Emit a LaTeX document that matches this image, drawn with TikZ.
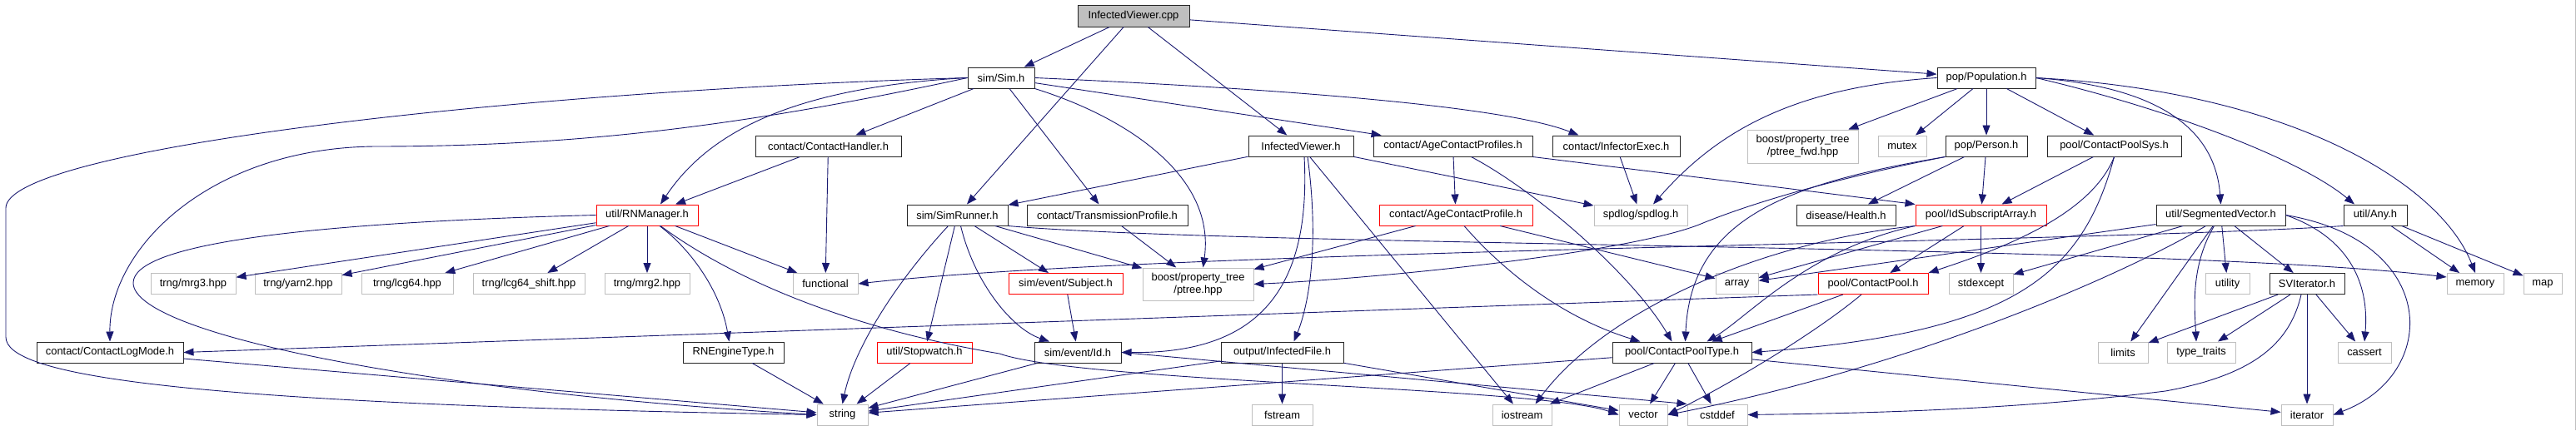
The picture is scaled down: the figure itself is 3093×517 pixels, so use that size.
\documentclass[tikz,border=0pt]{standalone}
\usepackage{fontspec}
\setmainfont{Liberation Sans}
\usetikzlibrary{arrows.meta}
\definecolor{depblue}{HTML}{191970}
\definecolor{sysgray}{HTML}{BFBFBF}

\begin{document}
\begin{tikzpicture}[x=1pt,y=-1pt,font=\fontsize{12.9}{15}\selectfont,
    box/.style={rectangle,inner sep=0pt,minimum height=25pt,line width=1pt,align=center},
    hdr/.style={box,draw=black!85},
    sys/.style={box,draw=sysgray},
    trunc/.style={box,draw=red},
    root/.style={box,draw=black!85,fill=sysgray,minimum height=26pt},
    dep/.style={depblue,line width=.9pt,-{Triangle[length=12pt,width=9pt]}}]
  \useasboundingbox[fill=white] (0,0) rectangle (3093,517);
  \draw[sysgray,line width=1pt] (3092.5,0) -- (3092.5,517);
  \node[root,minimum width=134pt] (cpp) at (1361,19) {InfectedViewer.cpp};
  \node[hdr,minimum width=80pt] (sim) at (1202,93.5) {sim/Sim.h};
  \node[hdr,minimum width=118pt] (pop) at (2385,93.5) {pop/Population.h};
  \foreach \n/\x/\w/\t in {chand/994.5/175/{contact/ContactHandler.h},ivh/1562/126/InfectedViewer.h,
      acps/1744.5/191/{contact/AgeContactProfiles.h},iexec/1940.5/153/{contact/InfectorExec.h},
      person/2385/98/{pop/Person.h},cpsys/2538.5/161/{pool/ContactPoolSys.h}}
    \node[hdr,minimum width=\w pt] (\n) at (\x,175.5) {\t};
  \node[sys,minimum width=133pt,minimum height=40pt] (ptfwd) at (2164.5,176) {boost/property\_tree\\/ptree\_fwd.hpp};
  \node[sys,minimum width=58pt] (mutex) at (2284,175.5) {mutex};
  \node[trunc,minimum width=122pt] (rnm) at (777,258.5) {util/RNManager.h};
  \foreach \n/\x/\w/\t in {simrun/1149.5/121/{sim/SimRunner.h},trans/1329.5/193/{contact/TransmissionProfile.h},
      health/2216.5/119/{disease/Health.h},segvec/2666.5/155/{util/SegmentedVector.h},any/2852/76/{util/Any.h}}
    \node[hdr,minimum width=\w pt] (\n) at (\x,258.5) {\t};
  \node[trunc,minimum width=184pt] (acp) at (1748,258.5) {contact/AgeContactProfile.h};
  \node[trunc,minimum width=157pt] (idsub) at (2378.5,258.5) {pool/IdSubscriptArray.h};
  \node[sys,minimum width=112pt] (spdlog) at (1970,258.5) {spdlog/spdlog.h};
  \foreach \n/\x/\w/\t in {mrg3/232/102/{trng/mrg3.hpp},yarn2/358/104/{trng/yarn2.hpp},lcg64/489/110/{trng/lcg64.hpp},
      lcgsh/635/134/{trng/lcg64\_shift.hpp},mrg2/777/102/{trng/mrg2.hpp},functional/991/78/functional,
      array/2085.5/51/array,stdexcept/2378.5/77/stdexcept,utility/2674.5/53/utility,memory/2972/68/memory,map/3053/46/map}
    \node[sys,minimum width=\w pt] (\n) at (\x,341) {\t};
  \node[sys,minimum width=133pt,minimum height=39pt] (ptree) at (1438.5,341.5) {boost/property\_tree\\/ptree.hpp};
  \node[trunc,minimum width=137pt] (subject) at (1279.5,341) {sim/event/Subject.h};
  \node[trunc,minimum width=132pt] (cpool) at (2249,341) {pool/ContactPool.h};
  \node[hdr,minimum width=90pt] (sviter) at (2770,341) {SVIterator.h};
  \foreach \n/\x/\w/\t in {clog/132/176/{contact/ContactLogMode.h},rneng/880.5/121/RNEngineType.h,id/1294/104/{sim/event/Id.h},
      ifile/1539.5/147/{output/InfectedFile.h},cptype/2019.5/167/{pool/ContactPoolType.h}}
    \node[hdr,minimum width=\w pt] (\n) at (\x,423.5) {\t};
  \node[trunc,minimum width=114pt] (stopw) at (1110,423.5) {util/Stopwatch.h};
  \foreach \n/\x/\w/\t in {limits/2549/60/limits,ttraits/2643/82/{type\_traits},cassert/2839/64/cassert}
    \node[sys,minimum width=\w pt] (\n) at (\x,423.5) {\t};
  \foreach \n/\x/\w/\t in {string/1011.5/61/string,fstream/1539.5/73/fstream,iostream/1827.5/71/iostream,
      vector/1973/58/vector,cstddef/2062/72/cstddef,iterator/2770/62/iterator}
    \node[sys,minimum width=\w pt] (\n) at (\x,498.5) {\t};

  \foreach \a/\b in {cpp/sim,cpp/simrun,cpp/ivh,cpp/pop,sim/chand,sim/trans,sim/acps,
      ivh/simrun,ivh/spdlog,ivh/iostream,pop/ptfwd,pop/mutex,pop/person,pop/cpsys,
      chand/rnm,chand/functional,acps/acp,iexec/spdlog,person/health,person/idsub,cpsys/idsub,
      rnm/mrg3,rnm/yarn2,rnm/lcg64,rnm/lcgsh,rnm/mrg2,rnm/functional,
      simrun/stopw,simrun/subject,simrun/ptree,trans/ptree,acp/ptree,acp/array,
      idsub/array,idsub/cpool,idsub/stdexcept,segvec/array,segvec/stdexcept,segvec/limits,
      segvec/utility,segvec/sviter,any/memory,any/map,subject/id,cpool/cptype,
      sviter/limits,sviter/ttraits,sviter/iterator,sviter/cassert,
      clog/string,rneng/string,stopw/string,id/string,ifile/string,ifile/fstream,ifile/vector,
      cptype/string,cptype/iostream,cptype/vector,cptype/cstddef,cptype/iterator}
    \draw[dep] (\a) -- (\b);
  \draw[dep] (acps.south east) -- (idsub.north west);
  \draw[dep] (cpool.south west) -- (clog.east);
  \draw[dep] (id.east) -- (cstddef.north west);

  \draw[dep] (sim.west) .. controls (600,110) and (7,180) .. (7,250) -- (7,405)
    .. controls (7,450) and (200,485) .. (string.west);
  \draw[dep] (sim.west) .. controls (900,150) and (700,176) .. (450,176)
    .. controls (250,178) and (131,300) .. (clog.north);
  \draw[dep] (sim.west) .. controls (950,105) and (850,160) .. ([xshift=16pt]rnm.north);
  \draw[dep] (sim.east) .. controls (1500,105) and (1800,125) .. ([xshift=-45pt]iexec.north);
  \draw[dep] (sim.south east) .. controls (1350,140) and (1460,210) .. ([xshift=6pt]ptree.north);
  \draw[dep] (rnm.west) .. controls (350,268) and (160,295) .. (160,340)
    .. controls (160,400) and (500,470) .. (string.west);
  \draw[dep] ([xshift=16pt]rnm.south) .. controls (900,350) and (1050,400) .. (1200,425)
    .. controls (1300,460) and (1850,465) .. (vector.west);
  \draw[dep] ([xshift=15pt]rnm.south) .. controls (830,300) and (865,350) .. ([xshift=-5pt]rneng.north);
  \draw[dep] ([xshift=-11pt]simrun.south) .. controls (1075,340) and (1025,420) .. (string.north);
  \draw[dep] ([xshift=4pt]simrun.south) .. controls (1170,340) and (1215,395) .. ([xshift=-34pt]id.north);
  \draw[dep] (simrun.south east) .. controls (1500,297) and (2600,293) .. ([yshift=8pt]memory.west);
  \draw[dep] ([xshift=4pt]ivh.south) .. controls (1575,360) and (1500,425) .. (id.east);
  \draw[dep] ([xshift=8pt]ivh.south) .. controls (1585,300) and (1570,370) .. ([xshift=14pt]ifile.north);
  \draw[dep] (pop.west) .. controls (2150,105) and (2060,160) .. ([xshift=15pt]spdlog.north);
  \draw[dep] (pop.east) .. controls (2600,105) and (2660,160) .. (segvec.north);
  \draw[dep] (pop.east) .. controls (2600,130) and (2760,190) .. ([xshift=-25pt]any.north);
  \draw[dep] (pop.east) .. controls (2750,110) and (2930,220) .. (memory.north);
  \draw[dep] ([xshift=22pt]acps.south) .. controls (1845,230) and (1960,330) .. ([xshift=-12pt]cptype.north);
  \draw[dep] ([xshift=10pt]acp.south) .. controls (1800,320) and (1870,380) .. ([xshift=-50pt]cptype.north);
  \draw[dep] (person.south west) .. controls (2200,215) and (2100,245) .. (2040,270)
    .. controls (1950,305) and (1650,335) .. (ptree.east);
  \draw[dep] (person.south west) .. controls (2150,220) and (2030,260) .. ([xshift=4pt]cptype.north);
  \draw[dep] (idsub.south west) .. controls (2120,290) and (1930,370) .. ([xshift=16pt]iostream.north);
  \draw[dep] (idsub.south west) .. controls (2170,300) and (2100,380) .. ([xshift=30pt]cptype.north);
  \draw[dep] (cpsys.south) .. controls (2510,260) and (2400,300) .. (cpool.north east);
  \draw[dep] (cpsys.south) .. controls (2500,330) and (2420,400) .. (cptype.east);
  \draw[dep] ([xshift=-14pt]cpool.south) .. controls (2180,400) and (2080,460) .. (vector.east);
  \draw[dep] ([xshift=-18pt]segvec.south) .. controls (2550,330) and (2300,440) .. (vector.east);
  \draw[dep] ([xshift=-8pt]segvec.south) .. controls (2630,320) and (2635,370) .. ([xshift=-6pt]ttraits.north);
  \draw[dep] (segvec.east) .. controls (2820,285) and (2845,340) .. (cassert.north);
  \draw[dep] (segvec.east) .. controls (2930,290) and (2930,450) .. (iterator.east);
  \draw[dep] (any.south west) .. controls (2500,292) and (1400,300) .. (functional.east);
  \draw[dep] ([xshift=-7pt]sviter.south) .. controls (2750,410) and (2710,450) .. (2600,470)
    .. controls (2400,495) and (2200,497) .. (cstddef.east);
\end{tikzpicture}
\end{document}
